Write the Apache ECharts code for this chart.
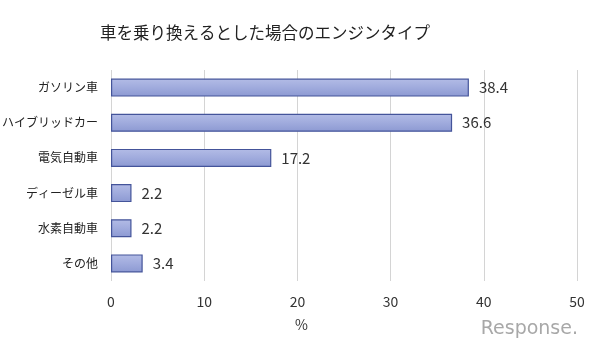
<!DOCTYPE html>
<html><head><meta charset="utf-8">
<script src="https://cdn.jsdelivr.net/npm/echarts@6/dist/echarts.min.js"></script>
<style>html,body{margin:0;padding:0;background:#fff}#c{width:600px;height:360px}</style>
</head><body><div id="c"></div>
<script>
const categories = ['ガソリン車','ハイブリッドカー','電気自動車','ディーゼル車','水素自動車','その他'];
const values = [38.4, 36.6, 17.2, 2.2, 2.2, 3.4];
const xTicks = [0, 10, 20, 30, 40, 50];

const chart = echarts.init(document.getElementById('c'));
chart.setOption({
  animation: false,
  backgroundColor: '#fff',
  title: {
    text: '車を乗り換えるとした場合のエンジンタイプ',
    left: 95, top: 19,
    textStyle: {fontFamily: 'Noto Sans CJK JP', fontSize: 16.5, fontWeight: 'normal', color: '#222'}
  },
  grid: {left: 111, right: 23, top: 70, bottom: 79, containLabel: false, outerBoundsMode: 'none'},
  xAxis: {
    type: 'value', min: xTicks[0], max: xTicks[xTicks.length-1], interval: 10,
    axisLine: {show: false}, axisTick: {show: false},
    axisLabel: {fontFamily: 'Noto Sans CJK JP', fontSize: 14, color: '#333', margin: 14},
    splitLine: {show: true, lineStyle: {color: '#d4d4d4', width: 1}}
  },
  yAxis: {
    type: 'category', data: categories, inverse: true,
    axisLine: {show: false}, axisTick: {show: false},
    axisLabel: {fontFamily: 'Noto Sans CJK JP', fontSize: 12, color: '#222', margin: 13}
  },
  series: [{
    type: 'bar', data: values, barWidth: 18,
    itemStyle: {
      color: new echarts.graphic.LinearGradient(0, 0, 0, 1, [
        {offset: 0, color: '#b3bce6'}, {offset: 0.5, color: '#a0abdd'}, {offset: 1, color: '#8c99d2'}
      ]),
      borderColor: '#44549a', borderWidth: 1.2
    },
    label: {show: true, position: 'right', distance: 10,
      fontFamily: 'Noto Sans CJK JP', fontSize: 15, color: '#333',
      formatter: p => p.value.toFixed(1)}
  }],
  graphic: [{
    type: 'text', left: 295, top: 318,
    style: {text: '%', fontFamily: 'Noto Sans CJK JP', fontSize: 14, fill: '#333'}
  }, {
    type: 'text', right: 22, top: 320,
    style: {text: 'Response.', fontFamily: 'DejaVu Sans', fontSize: 19, fill: '#a8a8a8', fontWeight: 'normal'}
  }]
});
</script></body></html>
